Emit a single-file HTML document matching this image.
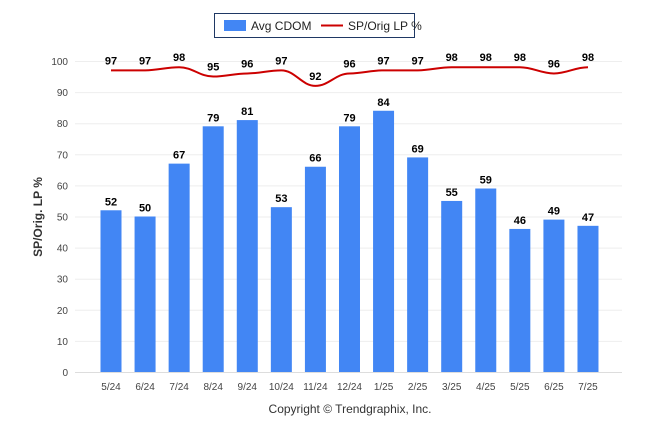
<!DOCTYPE html>
<html><head><meta charset="utf-8"><style>
body{margin:0;background:#fff;font-family:"Liberation Sans",sans-serif}
svg text{font-family:"Liberation Sans",sans-serif}
</style></head><body>
<svg id="c" width="646" height="434">
<g>
<rect x="214.5" y="13.5" width="200" height="24" fill="#fff" stroke="#1f3864" stroke-width="1"/>
<rect x="224" y="20" width="22" height="11" fill="#4286f4"/>
<text x="251" y="30" font-size="12" fill="#222">Avg CDOM</text>
<line x1="321" y1="25.5" x2="343" y2="25.5" stroke="#cc0000" stroke-width="2"/>
<text x="348" y="30" font-size="12" fill="#222">SP/Orig LP %</text>
</g>
<text transform="translate(42,217) rotate(-90)" text-anchor="middle" font-size="12" font-weight="bold" fill="#333">SP/Orig. LP %</text>
<text x="350" y="413" text-anchor="middle" font-size="12" fill="#333">Copyright © Trendgraphix, Inc.</text>
<g id="grid"></g><g id="bars"></g><g id="line"></g><g id="labels"></g>
</svg>
<script>
const categories=["5/24","6/24","7/24","8/24","9/24","10/24","11/24","12/24","1/25","2/25","3/25","4/25","5/25","6/25","7/25"];
const cdom=[52,50,67,79,81,53,66,79,84,69,55,59,46,49,47];
const sp=[97,97,98,95,96,97,92,96,97,97,98,98,98,96,98];
const yTicks=[0,10,20,30,40,50,60,70,80,90,100];
const NS="http://www.w3.org/2000/svg";
const y=v=>372-v*3.11, band=34.07, x=i=>111+i*band;
function mk(t,a,p){const e=document.createElementNS(NS,t);for(const k in a)e.setAttribute(k,a[k]);document.getElementById(p).appendChild(e);return e;}
yTicks.forEach(v=>{
 const l=mk('line',{x1:75,x2:622,y1:y(v)+.5,y2:y(v)+.5,stroke:v===0?'#ddd':'#eee'},'grid');
 
 
 const t=mk('text',{x:68,y:y(v)+4,'text-anchor':'end','font-size':'10',fill:'#444'},'grid');t.textContent=v;
 
 
});
categories.forEach((c,i)=>{
 const t=mk('text',{x:x(i),y:390,'text-anchor':'middle','font-size':'10',fill:'#444'},'grid');t.textContent=c;
 
 
 const b=mk('rect',{x:x(i)-10.5,y:y(cdom[i]),width:21,height:372-y(cdom[i]),fill:'#4286f4'},'bars');
 
 
 const bl=mk('text',{x:x(i),y:y(cdom[i])-5,'text-anchor':'middle','font-size':'11','font-weight':'bold',fill:'#000'},'labels');bl.textContent=cdom[i];
 
 
 const ll=mk('text',{x:x(i),y:y(sp[i])-6,'text-anchor':'middle','font-size':'11','font-weight':'bold',fill:'#000'},'labels');ll.textContent=sp[i];
 
 
});
let d='';
sp.forEach((v,i)=>{const px=x(i),py=y(v);if(i===0)d+=`M${px},${py}`;else{const qx=x(i-1),qy=y(sp[i-1]);const cx=band*0.4;d+=` C${qx+cx},${qy} ${px-cx},${py} ${px},${py}`;}});
const p=mk('path',{d:d,fill:'none',stroke:'#cc0000','stroke-width':2},'line');


</script>
</body></html>
